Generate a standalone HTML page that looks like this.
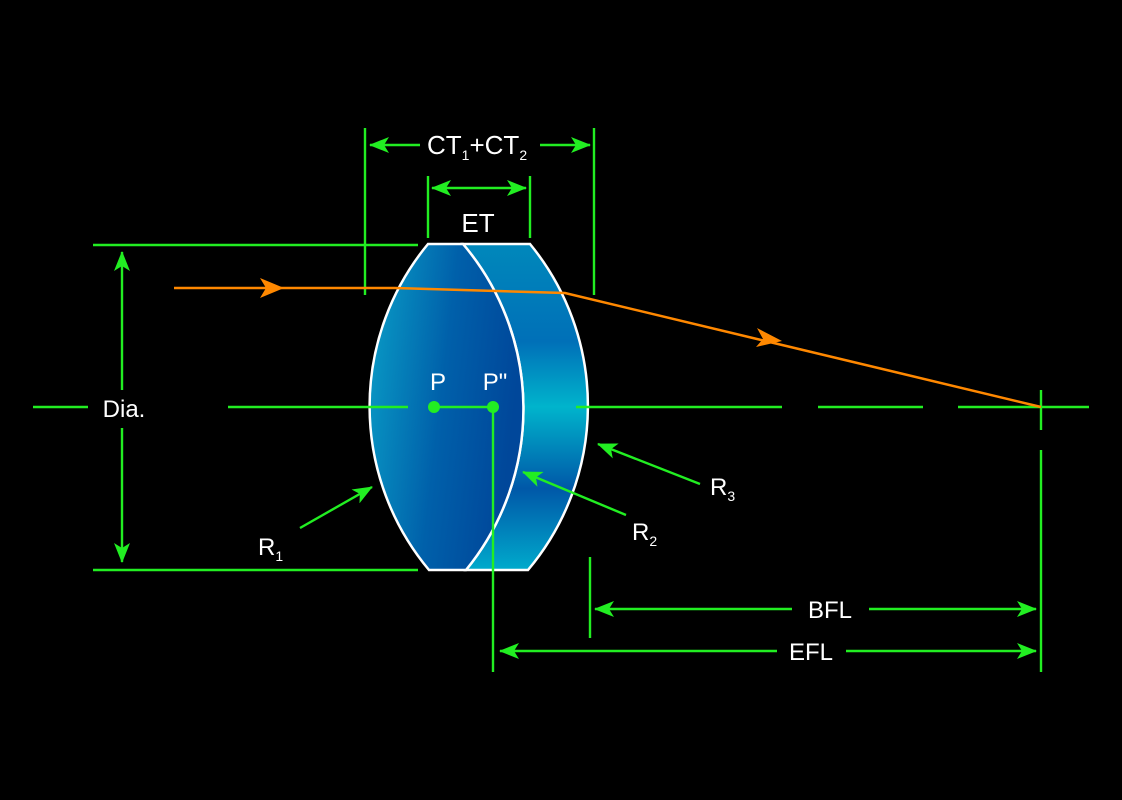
<!DOCTYPE html>
<html><head><style>
html,body{margin:0;padding:0;background:#000;}
svg{display:block;}
text{font-family:"Liberation Sans",sans-serif;fill:#fff;}
</style></head><body>
<svg width="1122" height="800" viewBox="0 0 1122 800" xmlns="http://www.w3.org/2000/svg">
<defs>
<linearGradient id="g1" x1="0" y1="0" x2="1" y2="0.25">
<stop offset="0" stop-color="#0aa0c8"/>
<stop offset="0.55" stop-color="#0060aa"/>
<stop offset="1" stop-color="#00479a"/>
</linearGradient>
<linearGradient id="g2" x1="0" y1="0" x2="0" y2="1">
<stop offset="0" stop-color="#0088bb"/>
<stop offset="0.3" stop-color="#0070b8"/>
<stop offset="0.5" stop-color="#00b4cc"/>
<stop offset="0.75" stop-color="#0058a8"/>
<stop offset="1" stop-color="#00aacc"/>
</linearGradient>
<marker id="ga" viewBox="0 0 20 16" refX="19" refY="8" markerWidth="20" markerHeight="16" markerUnits="userSpaceOnUse" orient="auto-start-reverse">
<path d="M0,0 L20,8 L0,16 L5,8 Z" fill="#22ee22"/>
</marker>
</defs>

<path d="M463,244 L530,244 A255,255 0 0 1 528,570 L466,570 A255,255 0 0 0 463,244 Z" fill="url(#g2)" stroke="#fff" stroke-width="2.5"/>
<path d="M428,244 L463,244 A255,255 0 0 1 466,570 L429,570 A255,255 0 0 1 428,244 Z" fill="url(#g1)" stroke="#fff" stroke-width="2.5"/>

<g stroke="#22ee22" stroke-width="2.4" fill="none">
<line x1="93" y1="245" x2="418" y2="245"/>
<line x1="93" y1="570" x2="418" y2="570"/>
<line x1="122" y1="390" x2="122" y2="252" marker-end="url(#ga)"/>
<line x1="122" y1="428" x2="122" y2="562" marker-end="url(#ga)"/>
<line x1="33" y1="407" x2="88" y2="407"/>
<line x1="228" y1="407" x2="408" y2="407"/>
<line x1="434" y1="407" x2="493" y2="407"/>
<line x1="576" y1="407" x2="782" y2="407"/>
<line x1="818" y1="407" x2="923" y2="407"/>
<line x1="958" y1="407" x2="1089" y2="407"/>
<line x1="1041" y1="390" x2="1041" y2="430"/>
<line x1="1041" y1="450" x2="1041" y2="672"/>
<line x1="365" y1="128" x2="365" y2="295"/>
<line x1="594" y1="128" x2="594" y2="295"/>
<line x1="420" y1="145" x2="370" y2="145" marker-end="url(#ga)"/>
<line x1="540" y1="145" x2="590" y2="145" marker-end="url(#ga)"/>
<line x1="428" y1="176" x2="428" y2="238"/>
<line x1="530" y1="176" x2="530" y2="238"/>
<line x1="479" y1="188" x2="432" y2="188" marker-end="url(#ga)"/>
<line x1="479" y1="188" x2="526" y2="188" marker-end="url(#ga)"/>
<line x1="300" y1="528" x2="372" y2="487" marker-end="url(#ga)"/>
<line x1="626" y1="515" x2="523" y2="472" marker-end="url(#ga)"/>
<line x1="700" y1="484" x2="598" y2="444" marker-end="url(#ga)"/>
<line x1="590" y1="557" x2="590" y2="638"/>
<line x1="493" y1="407" x2="493" y2="672"/>
<line x1="792" y1="609" x2="595" y2="609" marker-end="url(#ga)"/>
<line x1="869" y1="609" x2="1036" y2="609" marker-end="url(#ga)"/>
<line x1="777" y1="651" x2="500" y2="651" marker-end="url(#ga)"/>
<line x1="846" y1="651" x2="1036" y2="651" marker-end="url(#ga)"/>
</g>
<circle cx="434" cy="407" r="6" fill="#22ee22"/>
<circle cx="493" cy="407" r="6" fill="#22ee22"/>

<polyline points="174,288 395,288 565,293 1041,407" fill="none" stroke="#ff8800" stroke-width="2.5"/>
<path d="M260,278 L284,288 L260,298 L266,288 Z" fill="#ff8800"/>
<path d="M757,328 L782,341 L756,347 L763,339 Z" fill="#ff8800"/>

<text x="124" y="417" font-size="24" text-anchor="middle">Dia.</text>
<text x="427" y="154" font-size="26">CT<tspan font-size="14" dy="6">1</tspan><tspan dy="-6">+CT</tspan><tspan font-size="14" dy="6">2</tspan></text>
<text x="478" y="232" font-size="26" text-anchor="middle">ET</text>
<text x="438" y="390" font-size="24" text-anchor="middle">P</text>
<text x="495" y="390" font-size="24" text-anchor="middle">P"</text>
<text x="258" y="555" font-size="24">R<tspan font-size="14" dy="6">1</tspan></text>
<text x="632" y="540" font-size="24">R<tspan font-size="14" dy="6">2</tspan></text>
<text x="710" y="495" font-size="24">R<tspan font-size="14" dy="6">3</tspan></text>
<text x="830" y="618" font-size="24" text-anchor="middle">BFL</text>
<text x="811" y="660" font-size="24" text-anchor="middle">EFL</text>
</svg>
</body></html>
